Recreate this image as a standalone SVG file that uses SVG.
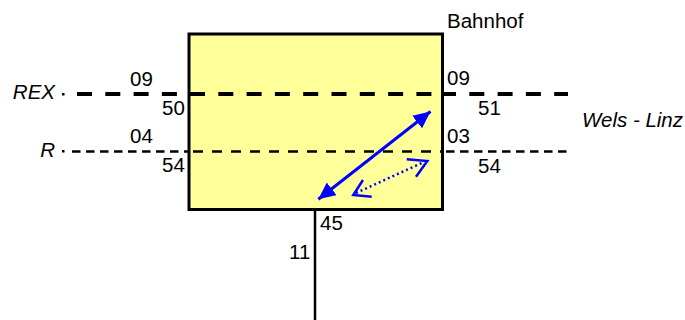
<svg xmlns="http://www.w3.org/2000/svg" width="685" height="320" viewBox="0 0 685 320">
  <style>
    text { font-family: "Liberation Sans", Arial, sans-serif; font-size: 20.5px; fill: #000; }
    .it { font-style: italic; }
    .rex { stroke: #000; stroke-width: 4; fill: none; stroke-dasharray: 15 13.3; }
    .r { stroke: #000; stroke-width: 2.5; fill: none; stroke-dasharray: 8.5 5.5; }
    .rin { stroke: #000; stroke-width: 2.5; fill: none; stroke-dasharray: 10 9; }
    .blue { stroke: #0000FF; fill: none; }
  </style>
  <defs>
    <marker id="fillhead" markerUnits="userSpaceOnUse" markerWidth="20" markerHeight="16" refX="17" refY="8" orient="auto-start-reverse">
      <path d="M0,0 L17,8 L0,16 Z" fill="#0000FF"/>
    </marker>
  </defs>

  <g id="station">
    <rect x="189" y="34" width="253.5" height="175.5" fill="#FFFF99" stroke="#000" stroke-width="3"/>
    <text x="447" y="28">Bahnhof</text>
  </g>

  <g id="stem">
    <line x1="315" y1="210" x2="315" y2="320" stroke="#000" stroke-width="2.5"/>
    <text x="320" y="230">45</text>
    <text x="289" y="259">11</text>
  </g>

  <g id="connectors">
    <rect x="62" y="93" width="2.5" height="2.5" fill="#000"/>
    <line class="rex" x1="77" y1="94" x2="189" y2="94"/>
    <line class="rex" x1="190" y1="94" x2="432" y2="94"/>
    <line class="rex" x1="441" y1="94" x2="568" y2="94"/>
    <rect x="62" y="150" width="2.5" height="2.5" fill="#000"/>
    <line class="r" x1="72" y1="151.5" x2="189" y2="151.5"/>
    <line class="rin" x1="193" y1="151.5" x2="442" y2="151.5"/>
    <line class="r" x1="446" y1="151.5" x2="568" y2="151.5"/>
    <line class="blue" x1="318.3" y1="199.3" x2="430.5" y2="111.5" stroke-width="3" marker-start="url(#fillhead)" marker-end="url(#fillhead)"/>
    <line class="blue" x1="356" y1="193" x2="424" y2="162" stroke-width="2.5" stroke-dasharray="2 3"/>
    <polyline class="blue" points="363,180 353.3,195 371.7,196.7" stroke-width="2.5"/>
    <polyline class="blue" points="406.7,159.3 427.3,161 416,176.7" stroke-width="2.5"/>
  </g>

  <g id="labels">
    <text class="it" x="55" y="98.5" text-anchor="end">REX</text>
    <text class="it" x="55" y="157" text-anchor="end">R</text>
    <text x="130" y="86">09</text>
    <text x="162" y="115">50</text>
    <text x="130" y="143">04</text>
    <text x="162" y="172">54</text>
    <text x="447" y="85">09</text>
    <text x="478" y="115">51</text>
    <text x="447" y="143">03</text>
    <text x="478" y="173">54</text>
    <text class="it" x="582" y="127.3">Wels - Linz</text>
  </g>
</svg>
